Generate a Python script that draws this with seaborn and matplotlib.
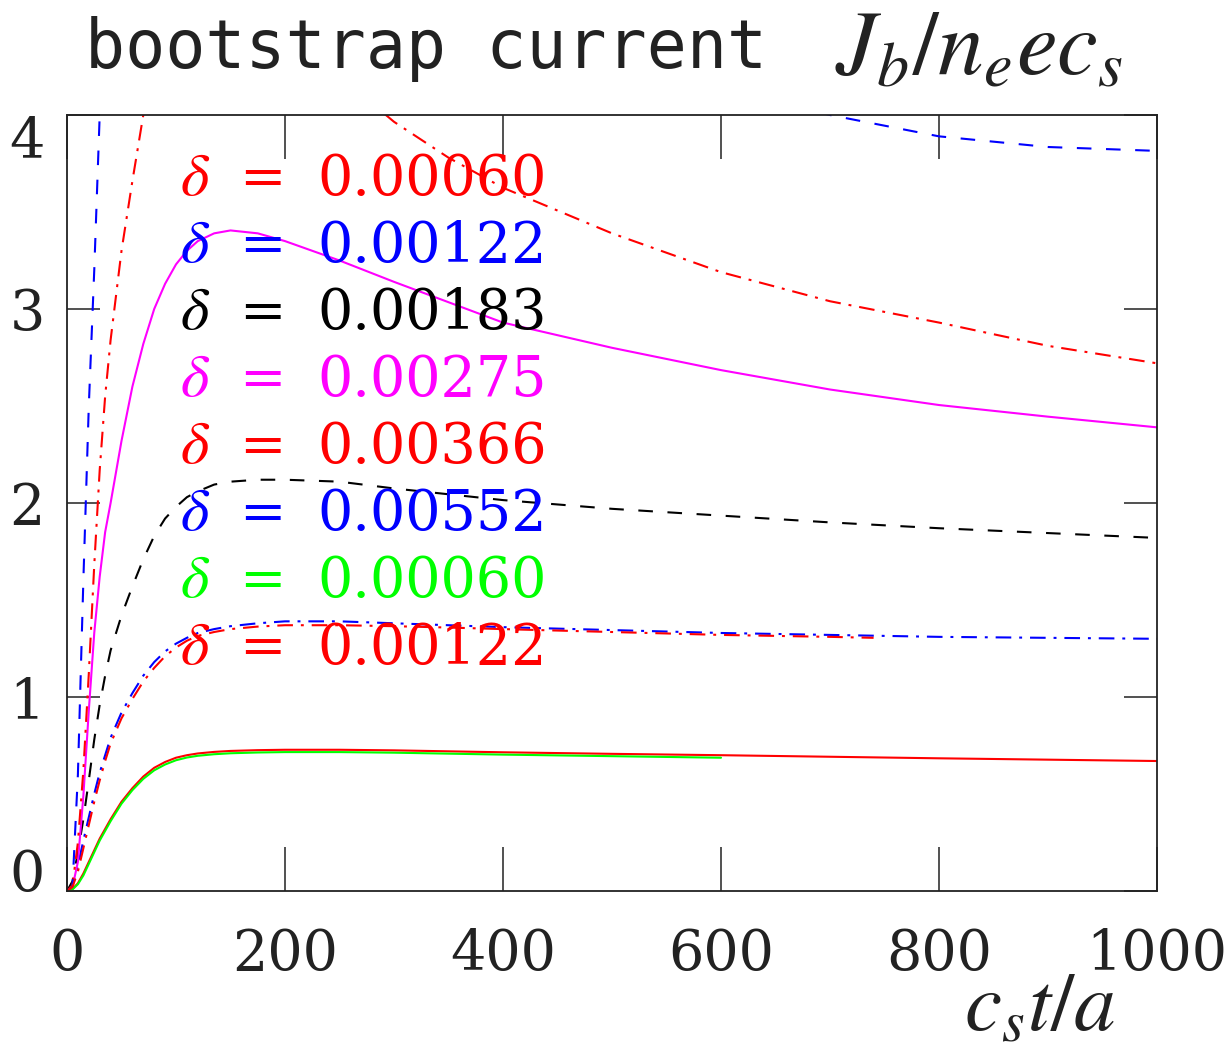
import numpy as np
import pandas as pd
import matplotlib
matplotlib.use("Agg")
import matplotlib.pyplot as plt
import seaborn as sns

# ---------------- data ----------------
t_full = [0, 5, 10, 15, 20, 25, 30, 35, 40, 50, 60, 70, 80, 90, 100, 110, 120,
          135, 150, 175, 200, 250, 300, 350, 400, 500, 600, 700, 800, 900, 1000]
t_600 = t_full[:27]
t_740 = t_full[:28] + [740]

j_00060 = [0, 0.01, 0.04, 0.09, 0.15, 0.21, 0.27, 0.32, 0.37, 0.46, 0.53, 0.59,
           0.635, 0.665, 0.687, 0.70, 0.709, 0.717, 0.722, 0.726, 0.728, 0.728,
           0.725, 0.72, 0.715, 0.707, 0.70, 0.692, 0.684, 0.677, 0.67]
j_00122 = [0, 0.03, 0.13, 0.26, 0.38, 0.50, 0.61, 0.70, 0.79, 0.92, 1.02, 1.11,
           1.18, 1.235, 1.275, 1.305, 1.33, 1.35, 1.365, 1.38, 1.39, 1.39, 1.38,
           1.37, 1.36, 1.345, 1.33, 1.32, 1.31, 1.305, 1.30]
j_00183 = [0, 0.05, 0.2, 0.37, 0.57, 0.78, 0.96, 1.11, 1.24, 1.42, 1.57, 1.71,
           1.83, 1.92, 1.98, 2.03, 2.06, 2.095, 2.11, 2.12, 2.12, 2.11, 2.075,
           2.045, 2.015, 1.97, 1.935, 1.90, 1.87, 1.845, 1.82]
j_00275 = [0, 0.02, 0.15, 0.49, 0.93, 1.33, 1.62, 1.85, 2.0, 2.32, 2.6, 2.82,
           3.0, 3.13, 3.23, 3.30, 3.35, 3.39, 3.405, 3.39, 3.35, 3.25, 3.14,
           3.035, 2.93, 2.80, 2.685, 2.585, 2.505, 2.445, 2.39]
j_00366 = [0, 0.03, 0.25, 0.62, 1.12, 1.68, 2.17, 2.55, 2.84, 3.3, 3.66, 4.0,
           4.25, 4.42, 4.52, 4.58, 4.6, 4.6, 4.57, 4.5, 4.4, 4.2, 3.965, 3.78,
           3.625, 3.39, 3.19, 3.04, 2.93, 2.81, 2.72]
j_00552 = [0, 0.02, 0.6, 1.6, 2.5, 3.2, 4.0, 4.5, 4.9, 5.5, 5.9, 6.1, 6.2, 6.24,
           6.25, 6.24, 6.2, 6.12, 6.0, 5.8, 5.6, 5.25, 4.95, 4.72, 4.55, 4.3,
           4.13, 4.0, 3.89, 3.835, 3.815]
j_00060_b = [0, 0.008, 0.035, 0.08, 0.14, 0.2, 0.26, 0.31, 0.36, 0.45, 0.52,
             0.578, 0.622, 0.652, 0.674, 0.688, 0.697, 0.705, 0.71, 0.714,
             0.716, 0.716, 0.713, 0.708, 0.703, 0.695, 0.687]
j_00122_b = [0, 0.02, 0.10, 0.22, 0.34, 0.46, 0.57, 0.67, 0.76, 0.89, 0.99,
             1.08, 1.15, 1.21, 1.255, 1.29, 1.315, 1.335, 1.35, 1.363, 1.37,
             1.37, 1.365, 1.358, 1.35, 1.335, 1.32, 1.31, 1.305]

delta_labels = ["0.00060", "0.00122", "0.00183", "0.00275", "0.00366",
                "0.00552", "0.00060", "0.00122"]
series_t = [t_full, t_full, t_full, t_full, t_full, t_full, t_600, t_740]
series_j = [j_00060, j_00122, j_00183, j_00275, j_00366, j_00552, j_00060_b,
            j_00122_b]
colors = ["#ff0000", "#0000ff", "#000000", "#ff00ff", "#ff0000", "#0000ff",
          "#00ff00", "#ff0000"]
DASHED = (0, (7, 7))
DASHDOT = (0, (7.5, 3.8, 1.4, 3.8))
styles = ["-", DASHDOT, DASHED, "-", DASHDOT, DASHED, "-", DASHDOT]

x_ticks = [0, 200, 400, 600, 800, 1000]
y_ticks = [0, 1, 2, 3, 4]

# ---------------- style ----------------
sns.set_style("ticks")
plt.rcParams["font.family"] = ["DejaVu Serif", "DejaVu Sans"]
plt.rcParams["mathtext.fontset"] = "stix"

fig = plt.figure(figsize=(12.27, 10.55), dpi=100)
fig.patch.set_facecolor("white")
ax = fig.add_axes([67 / 1227, 1 - 891 / 1055, 1090 / 1227, 776 / 1055])
ax.set_facecolor("white")

for t, j, c, ls in zip(series_t, series_j, colors, styles):
    df = pd.DataFrame({"t": t, "j": j})
    sns.lineplot(data=df, x="t", y="j", color=c, linestyle=ls, lw=1.5,
                 ax=ax, estimator=None, sort=False)

ax.set_xlim(0, 1000)
ax.set_ylim(0, 4)
ax.set_xticks(x_ticks)
ax.set_yticks(y_ticks)
ax.set_xticklabels([str(v) for v in x_ticks])
ax.set_yticklabels([str(v) for v in y_ticks])
ax.set_xlabel("")
ax.set_ylabel("")

for s in ax.spines.values():
    s.set_visible(True)
    s.set_linewidth(1.3)
    s.set_color("#222222")

ax.tick_params(axis="x", which="major", direction="in", length=32, width=1.1,
               top=True, bottom=True, labelsize=40, pad=26, colors="#222222")
ax.tick_params(axis="y", which="major", direction="in", length=24, width=1.1,
               left=True, right=True, labelsize=40, pad=16, colors="#222222")
ax.minorticks_off()

yt = ax.yaxis.get_major_ticks()
yt[-1].label1.set_verticalalignment("top")
yt[0].label1.set_verticalalignment("baseline")

# legend rows drawn as text
row0 = (891 - 195) / 776
dy = 67 / 776
for i, (lab, c) in enumerate(zip(delta_labels, colors)):
    yy = row0 - i * dy
    ax.text((180 - 67) / 1090, yy, r"$\delta$", color=c, fontsize=44,
            transform=ax.transAxes, ha="left", va="baseline")
    ax.text((262 - 67) / 1090, yy, "=", color=c, fontsize=40,
            transform=ax.transAxes, ha="center", va="baseline")
    ax.text((317 - 67) / 1090, yy, lab, color=c, fontsize=40,
            transform=ax.transAxes, ha="left", va="baseline")

# title
fig.text(85 / 1227, 1 - 68 / 1055, "bootstrap current", fontsize=48,
         family=["DejaVu Sans Mono"], ha="left",
         va="baseline", color="#222222")
fig.text(835 / 1227, 1 - 74 / 1055, r"$J_b/n_eec_s$", fontsize=66,
         ha="left", va="baseline", color="#222222")

# x axis label
fig.text(1115 / 1227, 1 - 1030 / 1055, r"$c_st/a$", fontsize=60,
         ha="right", va="baseline", color="#222222")

fig.savefig("out.png", dpi=100, facecolor="white")
